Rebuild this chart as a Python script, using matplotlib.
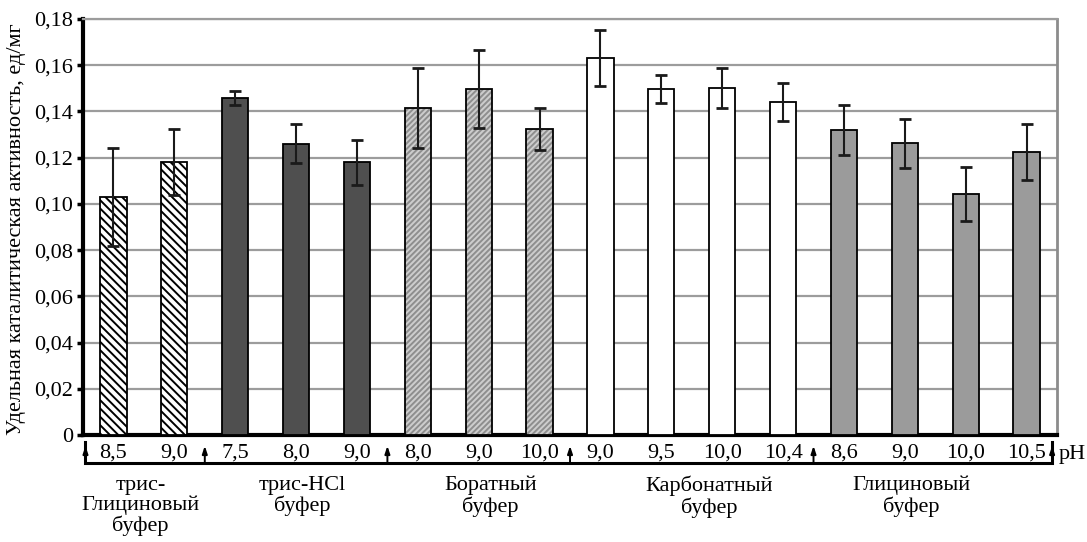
import matplotlib
matplotlib.use("Agg")
import matplotlib.pyplot as plt
from matplotlib.transforms import blended_transform_factory

plt.rcParams['font.family'] = ['Liberation Serif', 'DejaVu Serif']
plt.rcParams['hatch.linewidth'] = 1.4

# pH values under each bar
ph_labels = ['8,5', '9,0', '7,5', '8,0', '9,0', '8,0', '9,0', '10,0',
             '9,0', '9,5', '10,0', '10,4', '8,6', '9,0', '10,0', '10,5']
# specific catalytic activity, units/mg
activity = [0.103, 0.118, 0.146, 0.126, 0.118, 0.1415, 0.1497, 0.1324,
            0.1631, 0.1497, 0.1501, 0.1441, 0.132, 0.1263, 0.1043, 0.1225]
errors = [0.021, 0.0143, 0.003, 0.0084, 0.0097, 0.0175, 0.0167, 0.0089,
          0.012, 0.006, 0.0085, 0.0082, 0.0108, 0.0106, 0.0117, 0.0121]
# buffer group of each bar
group_of_bar = [0, 0, 1, 1, 1, 2, 2, 2, 3, 3, 3, 3, 4, 4, 4, 4]
group_names = ['трис-\nГлициновый\nбуфер', 'трис-HCl\nбуфер', 'Боратный\nбуфер',
               'Карбонатный\nбуфер', 'Глициновый\nбуфер']
group_label_x = [0.44, 3.1, 6.19, 9.78, 13.11]
y_ticks = [0, 0.02, 0.04, 0.06, 0.08, 0.10, 0.12, 0.14, 0.16, 0.18]

# look of each buffer group: face, hatch, hatch colour
styles = [
    dict(face='white', hatch='\\\\\\\\', hcol='black'),
    dict(face='#4f4f4f', hatch=None, hcol=None),
    dict(face='#cdcdcd', hatch='//////', hcol='#8e8e8e'),
    dict(face='white', hatch=None, hcol=None),
    dict(face='#9b9b9b', hatch=None, hcol=None),
]

FS = 16

fig = plt.figure(figsize=(10.87, 5.42), dpi=100)
ax = fig.add_axes([0.0764, 0.1974, 0.8960, 0.7675])

x = list(range(len(activity)))
width = 0.43
for i in x:
    st = styles[group_of_bar[i]]
    if st['hatch']:
        ax.bar(i, activity[i], width, color=st['face'], hatch=st['hatch'],
               edgecolor=st['hcol'], linewidth=0, zorder=3)
        ax.bar(i, activity[i], width, fill=False, edgecolor='black',
               linewidth=1.3, zorder=4)
    else:
        ax.bar(i, activity[i], width, color=st['face'], edgecolor='black',
               linewidth=1.3, zorder=3)

ax.errorbar(x, activity, yerr=errors, fmt='none', ecolor='#1a1a1a',
            elinewidth=1.5, capsize=4, capthick=2, zorder=5)

ax.set_xlim(-0.5, 15.5)
ax.set_ylim(0, 0.18)
ax.set_yticks(y_ticks)
ax.set_yticklabels(['0' if v == 0 else f'{v:.2f}'.replace('.', ',') for v in y_ticks],
                   fontsize=FS)
ax.set_xticks(x)
ax.set_xticklabels(ph_labels, fontsize=FS)
ax.tick_params(axis='x', length=0, pad=6)
ax.tick_params(axis='y', direction='out', length=4, width=2.5, pad=3)

ax.yaxis.grid(True, color='#9c9c9c', linewidth=1.6, zorder=0)
ax.set_axisbelow(True)

ax.spines['left'].set_linewidth(3)
ax.spines['bottom'].set_linewidth(3)
ax.spines['top'].set_color('#9c9c9c')
ax.spines['top'].set_linewidth(1.6)
ax.spines['right'].set_color('#8c8c8c')
ax.spines['right'].set_linewidth(2)

# bracket with arrows under the pH labels
tr = blended_transform_factory(ax.transData, ax.transAxes)
y_line = -0.067
y_tip = -0.026
x_left, x_right = -0.46, 15.42
ax.plot([x_left, x_left, x_right, x_right], [y_tip + 0.01, y_line, y_line, y_tip + 0.01],
        color='black', linewidth=2.2, transform=tr, clip_on=False,
        solid_joinstyle='miter')
for xb in [x_left, 1.5, 4.5, 7.5, 11.5, x_right]:
    ax.annotate('', xy=(xb, y_tip), xytext=(xb, y_line), xycoords=tr, textcoords=tr,
                arrowprops=dict(arrowstyle='-|>,head_length=0.45,head_width=0.15',
                                color='black', lw=1.4, shrinkA=0, shrinkB=0))

ax.text(1.0015, -0.048, 'pH', transform=ax.transAxes, fontsize=FS,
        ha='left', va='center')

for gx, name in zip(group_label_x, group_names):
    ax.text(gx, -0.098, name, transform=tr, fontsize=FS, ha='center', va='top',
            linespacing=1.05)

fig.text(17 / 1087, 1 - 229 / 542, 'Удельная каталитическая активность, ед/мг',
         rotation=90, fontsize=FS, ha='center', va='center')

fig.savefig('out.png', dpi=100)
